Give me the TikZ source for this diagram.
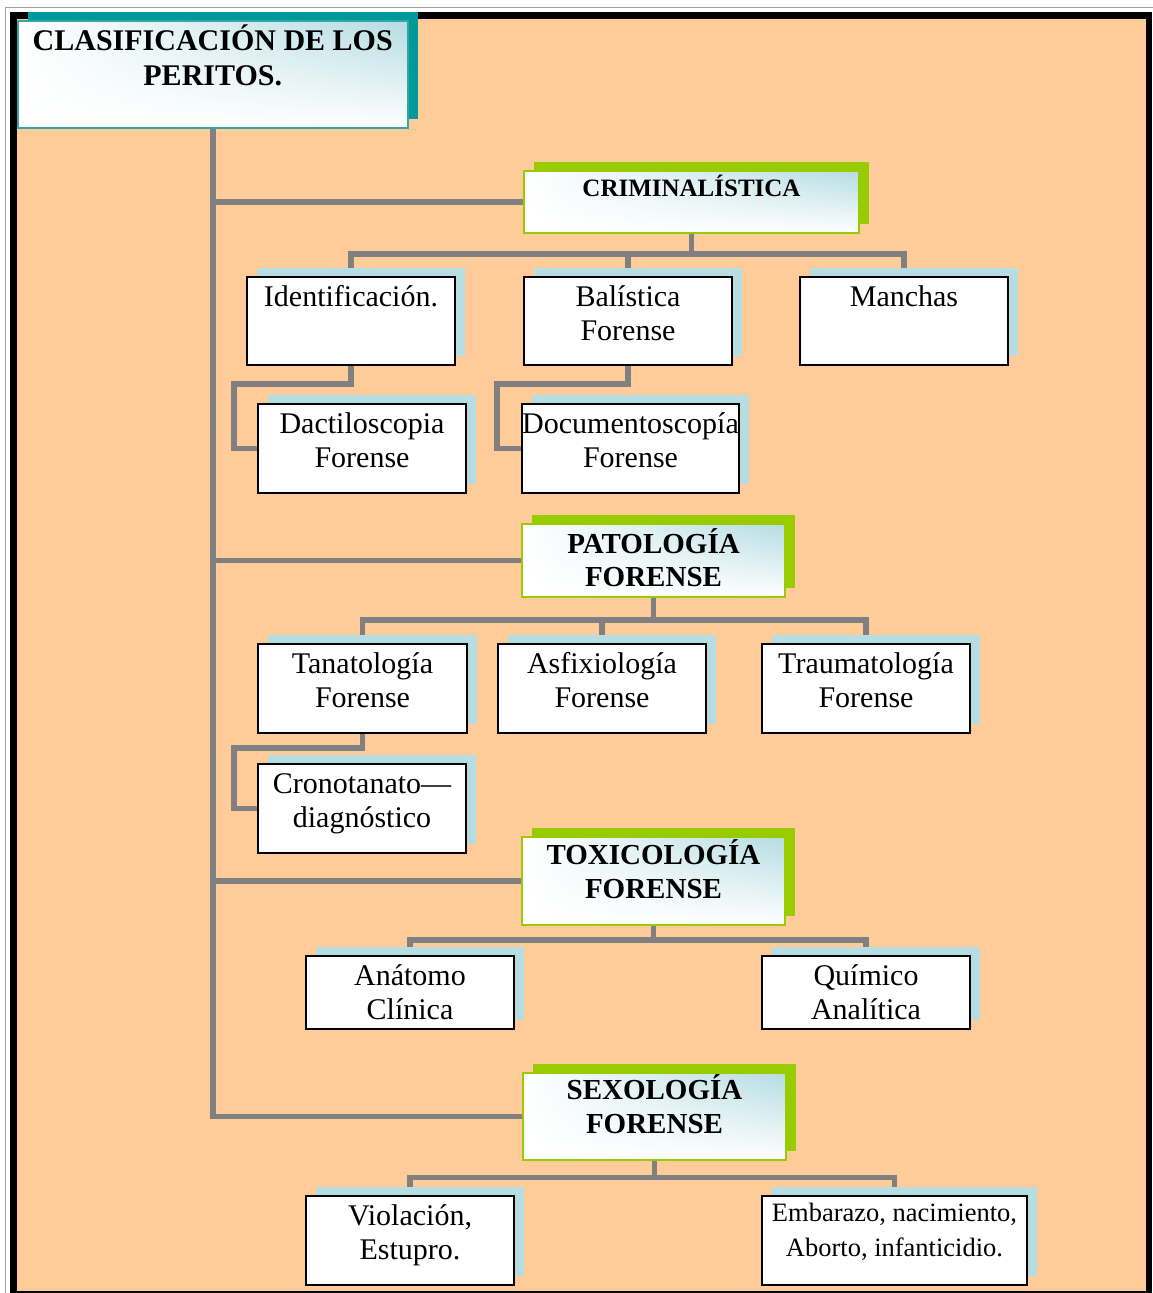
\documentclass[tikz,border=0pt]{standalone}
\usepackage{fontspec}
\setmainfont{Liberation Serif}
\usetikzlibrary{shadings}
\definecolor{peach}{HTML}{FFCC99}
\definecolor{shblue}{HTML}{B6DEE2}
\definecolor{hdrblue}{HTML}{B4DCE2}
\definecolor{hgreen}{HTML}{99CC00}
\definecolor{tealsh}{HTML}{009999}
\definecolor{tealbd}{HTML}{33A6A6}
\definecolor{conncol}{HTML}{808080}
\definecolor{framegray}{HTML}{A0A0A0}
\pgfdeclarelayer{bg}
\pgfdeclarelayer{lines}
\pgfsetlayers{bg,lines,main}
\tikzset{
  wbox/.style={draw=black, line width=2pt, fill=white, inner sep=0pt},
  hbox/.style={draw=hgreen, line width=2pt, inner sep=0pt,
    upper left=white, upper right=hdrblue, lower left=white, lower right=white},
  tbox/.style={draw=tealbd, line width=1.5pt, inner sep=0pt,
    upper left=white, upper right=hdrblue, lower left=white, lower right=white},
  lbl/.style={anchor=north, inner sep=0pt, align=center, text=black},
  wfont/.style={font=\fontsize{30}{34.5}\selectfont},
  conn/.style={draw=conncol, line width=5.5pt, line join=miter}
}
\newcommand\mkbox[7]{%
  \fill[#2] (#4+11,#5-8) rectangle (#6+11,#7-8);
  \node[#1, anchor=north west, minimum width=#6-#4, minimum height=#7-#5] (#3) at (#4,#5) {};
}
\begin{document}
\begin{tikzpicture}[x=1pt,y=-1pt]
\useasboundingbox (0,0) rectangle (1153,1293);
\begin{pgfonlayer}{bg}
  \fill[black] (10,12) rectangle (1152,1293);
  \fill[peach] (17,19) rectangle (1145.5,1291);
  \draw[framegray, line width=1.5pt] (1160,7.5) -- (5.5,7.5) -- (5.5,1300);
\end{pgfonlayer}

% title
\mkbox{tbox}{tealsh}{title}{17}{20}{407}{127}
\node[lbl, font=\bfseries\fontsize{30}{35}\selectfont] (titlet) at (title.north) {\rule{0pt}{30pt}CLASIFICACIÓN DE LOS\\PERITOS.};

% headers
\mkbox{hbox}{hgreen}{crim}{523}{170}{858}{232}
\node[lbl, font=\bfseries\fontsize{25}{30}\selectfont] (crimt) at (crim.north) {\rule{0pt}{26pt}CRIMINALÍSTICA};
\mkbox{hbox}{hgreen}{pat}{521}{523}{784}{596}
\node[lbl, font=\bfseries\fontsize{29}{33}\selectfont] (patt) at (pat.north) {\rule{0pt}{30pt}PATOLOGÍA\\FORENSE};
\mkbox{hbox}{hgreen}{tox}{521}{836}{784}{924}
\node[lbl, font=\bfseries\fontsize{29}{34}\selectfont] (toxt) at (tox.north) {\rule{0pt}{28pt}TOXICOLOGÍA\\FORENSE};
\mkbox{hbox}{hgreen}{sex}{522}{1072}{785}{1159}
\node[lbl, font=\bfseries\fontsize{29}{34}\selectfont] (sext) at (sex.north) {\rule{0pt}{27pt}SEXOLOGÍA\\FORENSE};

% white boxes
\mkbox{wbox}{shblue}{ident}{246}{276}{454}{364}
\node[lbl, wfont] (identt) at (ident.north) {\rule{0pt}{30pt}Identificación.};
\mkbox{wbox}{shblue}{bal}{523}{276}{731}{364}
\node[lbl, wfont] (balt) at (bal.north) {\rule{0pt}{30pt}Balística\\Forense};
\mkbox{wbox}{shblue}{man}{799}{276}{1007}{364}
\node[lbl, wfont] (mant) at (man.north) {\rule{0pt}{30pt}Manchas};
\mkbox{wbox}{shblue}{dact}{257}{403}{465}{492}
\node[lbl, wfont] (dactt) at (dact.north) {\rule{0pt}{30pt}Dactiloscopia\\Forense};
\mkbox{wbox}{shblue}{doc}{521}{403}{738}{492}
\node[lbl, wfont] (doct) at (doc.north) {\rule{0pt}{30pt}Documentoscopía\\Forense};
\mkbox{wbox}{shblue}{tan}{257}{643}{466}{732}
\node[lbl, wfont] (tant) at (tan.north) {\rule{0pt}{30pt}Tanatología\\Forense};
\mkbox{wbox}{shblue}{asf}{497}{643}{705}{732}
\node[lbl, wfont] (asft) at (asf.north) {\rule{0pt}{30pt}Asfixiología\\Forense};
\mkbox{wbox}{shblue}{tra}{761}{643}{969}{732}
\node[lbl, wfont] (trat) at (tra.north) {\rule{0pt}{30pt}Traumatología\\Forense};
\mkbox{wbox}{shblue}{cro}{257}{763}{465}{852}
\node[lbl, wfont] (crot) at (cro.north) {\rule{0pt}{30pt}Cronotanato—\\diagnóstico};
\mkbox{wbox}{shblue}{ana}{305}{955}{513}{1028}
\node[lbl, wfont] (anat) at (ana.north) {\rule{0pt}{30pt}Anátomo\\Clínica};
\mkbox{wbox}{shblue}{qui}{761}{955}{969}{1028}
\node[lbl, wfont] (quit) at (qui.north) {\rule{0pt}{30pt}Químico\\Analítica};
\mkbox{wbox}{shblue}{vio}{305}{1195}{513}{1284}
\node[lbl, wfont] (viot) at (vio.north) {\rule{0pt}{30pt}Violación,\\Estupro.};
\mkbox{wbox}{shblue}{emb}{761}{1195}{1026}{1284}
\node[lbl, font=\fontsize{26.5}{35}\selectfont] (embt) at (emb.north) {\rule{0pt}{26pt}Embarazo, nacimiento,\\Aborto, infanticidio.};

% connectors
\begin{pgfonlayer}{lines}
  \draw[conn] (title.south) -- (title.south |- sex.west) -- (sex.west);
  \draw[conn] (title.south |- crim.west) -- (crim.west);
  \draw[conn] (title.south |- pat.west) -- (pat.west);
  \draw[conn] (title.south |- tox.west) -- (tox.west);

  \coordinate (cb) at (0,254);
  \draw[conn] (crim.south) -- (crim.south |- cb);
  \draw[conn] (ident.north) -- (ident.north |- cb) -- (man.north |- cb) -- (man.north);
  \draw[conn] (bal.north) -- (bal.north |- cb);
  \coordinate (e1) at (234,384);
  \draw[conn] (ident.south) |- (e1) |- (dact.west);
  \coordinate (e2) at (497,384);
  \draw[conn] (bal.south) |- (e2) |- (doc.west);

  \coordinate (pb) at (0,620);
  \draw[conn] (pat.south) -- (pat.south |- pb);
  \draw[conn] (tan.north) -- (tan.north |- pb) -- (tra.north |- pb) -- (tra.north);
  \draw[conn] (asf.north) -- (asf.north |- pb);
  \coordinate (e3) at (234,748);
  \draw[conn] (tan.south) |- (e3) |- (cro.west);

  \coordinate (tb) at (0,940);
  \draw[conn] (tox.south) -- (tox.south |- tb);
  \draw[conn] (ana.north) -- (ana.north |- tb) -- (qui.north |- tb) -- (qui.north);

  \coordinate (sb) at (0,1177.5);
  \draw[conn] (sex.south) -- (sex.south |- sb);
  \draw[conn] (vio.north) -- (vio.north |- sb) -- (emb.north |- sb) -- (emb.north);
\end{pgfonlayer}
\end{tikzpicture}
\end{document}
